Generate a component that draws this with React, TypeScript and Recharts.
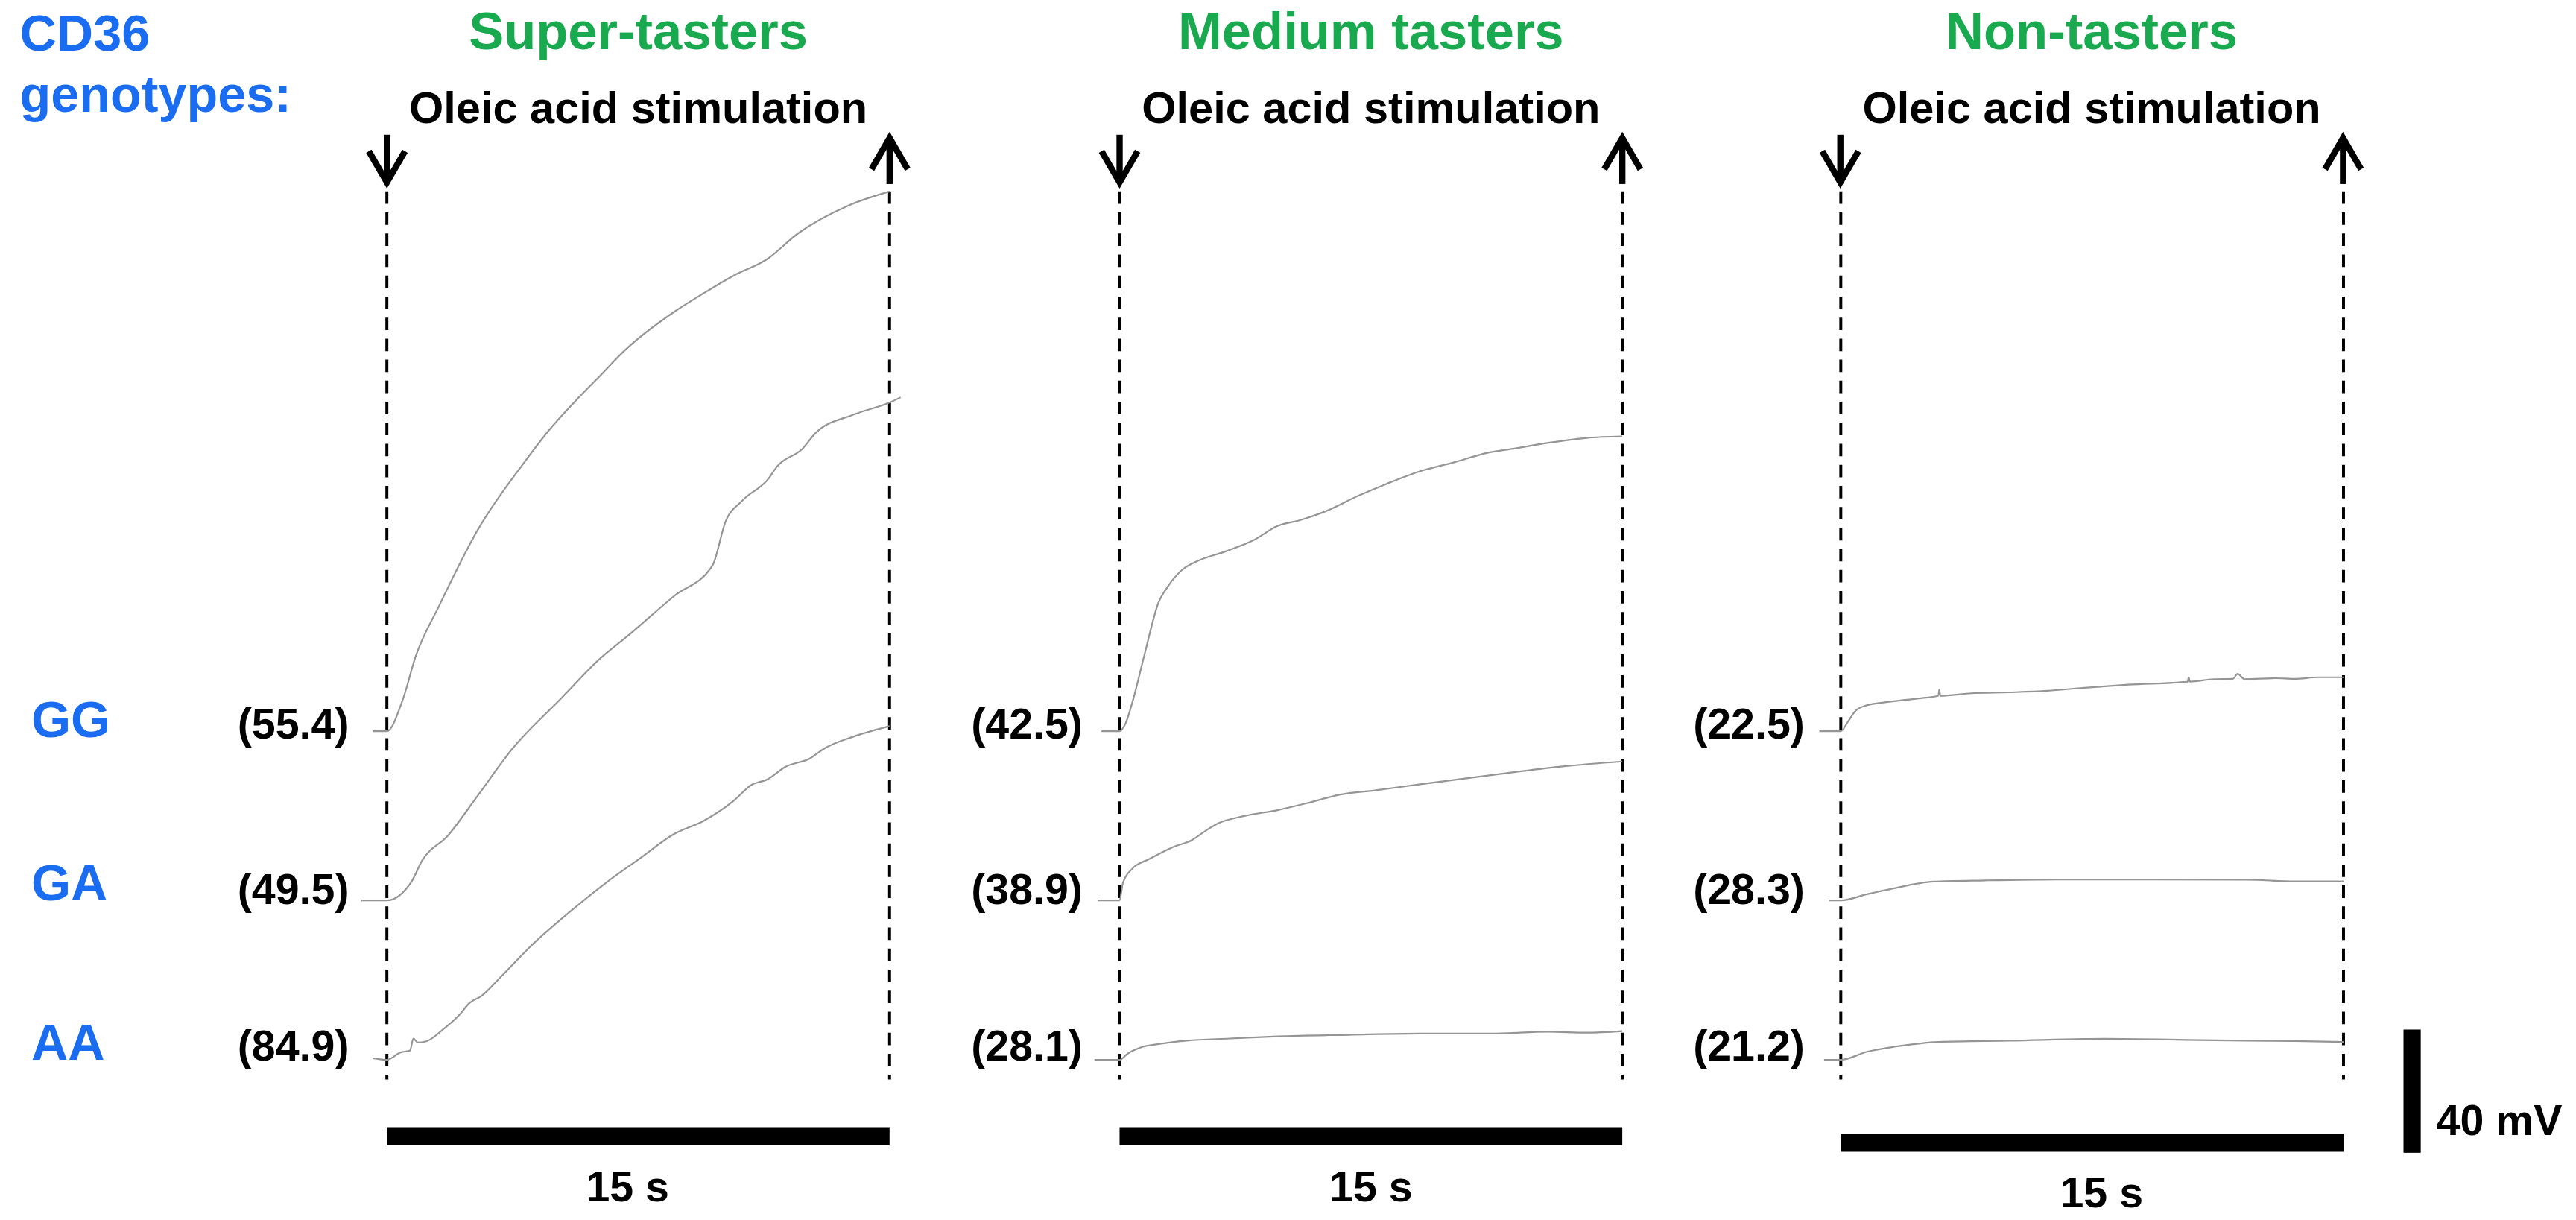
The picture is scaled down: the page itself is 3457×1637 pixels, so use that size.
import { LineChart, Line, XAxis, YAxis, ReferenceLine, ReferenceArea } from 'recharts'

// labels
const genotypes = ['GG', 'GA', 'AA']
const panelTitles = ['Super-tasters', 'Medium tasters', 'Non-tasters']
const superValues = ['(55.4)', '(49.5)', '(84.9)']
const mediumValues = ['(42.5)', '(38.9)', '(28.1)']
const nonValues = ['(22.5)', '(28.3)', '(21.2)']

// traces: time (s, 0 = oleic acid on) and depolarisation from baseline (mV)
const superGG_t = [-0.42, 0, 0.47, 0.86, 1.56, 2.71, 4.11, 4.87, 5.76, 6.4, 7.04, 8.57, 9.46, 10.35, 11.37, 12.26, 13.79, 15.0]
const superGG_mv = [0, 0, 10.1, 24.3, 40.7, 65.3, 87.4, 98.1, 108.7, 115.8, 123.0, 136.1, 142.2, 147.9, 153.4, 161.5, 170.7, 175.2]
const superGA_t = [-0.76, 0, 0.73, 1.05, 1.81, 2.71, 3.72, 5.23, 6.29, 7.29, 8.57, 9.72, 10.1, 10.61, 11.38, 11.64, 12.41, 12.79, 13.93, 15.02, 15.33]
const superGA_mv = [0, 0, 6.0, 12.9, 20.9, 34.0, 48.9, 65.9, 77.8, 86.8, 98.8, 108.8, 122.8, 129.8, 136.8, 140.8, 146.7, 151.7, 157.7, 161.7, 163.3]
const superAA_t = [-0.42, 0, 0.41, 0.69, 0.79, 0.92, 1.18, 1.68, 2.19, 2.45, 2.83, 3.47, 4.36, 5.51, 6.53, 7.54, 8.57, 9.46, 10.35, 10.86, 11.37, 11.88, 12.65, 13.03, 13.92, 15.0]
const superAA_mv = [0.5, 0, 2.4, 3.0, 6.9, 5.6, 6.0, 9.9, 14.9, 18.3, 20.8, 27.7, 37.6, 48.5, 57.4, 65.3, 73.3, 77.6, 84.1, 89.1, 91.1, 95.0, 98.0, 100.9, 104.9, 108.3]

const mediumGG_t = [-0.54, 0, 0.17, 0.38, 0.74, 1.16, 1.45, 1.87, 2.3, 3.15, 4.0, 4.71, 5.42, 6.13, 7.12, 7.97, 8.97, 9.96, 10.95, 11.81, 12.8, 13.93, 15.0]
const mediumGG_mv = [0, 0, 2.3, 9.3, 24.7, 41.7, 47.1, 52.4, 55.1, 58.3, 62.0, 66.6, 68.6, 71.3, 76.4, 80.3, 84.4, 87.2, 90.3, 91.8, 93.6, 95.2, 95.7]
const mediumGA_t = [-0.65, 0, 0.1, 0.38, 0.88, 1.59, 2.16, 2.58, 2.94, 3.72, 4.71, 5.71, 6.56, 7.69, 8.97, 10.39, 11.81, 13.22, 15.0]
const mediumGA_mv = [0, 0, 5.7, 10.3, 13.4, 17.3, 19.6, 22.7, 25.0, 27.4, 29.3, 31.9, 34.3, 35.8, 37.7, 39.7, 41.7, 43.5, 45.1]
const mediumAA_t = [-0.75, 0, 0.24, 0.6, 1.16, 2.01, 3.29, 4.71, 6.84, 8.97, 11.1, 12.8, 13.93, 15.0]
const mediumAA_mv = [0, 0, 2.0, 3.9, 5.1, 6.2, 6.9, 7.6, 8.1, 8.5, 8.5, 9.1, 8.8, 9.3]

const nonGG_t = [-0.64, 0, 0.21, 0.43, 0.71, 1.49, 2.48, 2.91, 2.94, 2.97, 3.9, 5.03, 6.17, 7.16, 8.58, 10.35, 10.38, 10.42, 11.13, 11.7, 11.84, 12.05, 12.97, 13.54, 14.25, 15.0]
const nonGG_mv = [0, 0, 3.0, 6.5, 8.2, 9.6, 10.8, 11.5, 13.5, 11.5, 12.3, 12.6, 13.1, 14.0, 15.1, 16.1, 17.5, 16.1, 16.9, 17.0, 18.6, 16.9, 17.2, 17.0, 17.5, 17.5]
const nonGA_t = [-0.35, 0, 0.78, 1.49, 2.77, 4.32, 6.45, 9.29, 12.12, 13.54, 15.0]
const nonGA_mv = [0, 0, 2.0, 3.7, 6.1, 6.5, 6.8, 6.8, 6.7, 6.2, 6.2]
const nonAA_t = [-0.5, 0, 0.78, 1.77, 2.91, 5.03, 7.87, 10.7, 12.12, 13.54, 15.0]
const nonAA_mv = [0, 0, 2.6, 4.5, 5.8, 6.2, 6.8, 6.4, 6.2, 6.1, 5.8]

// layout, in units of a 1568 px wide figure, scaled up at the end
const SCALE = 3457 / 1568
const FIG_W = 1568
const FIG_H = 742
const STIM_S = 15
const PX_PER_S = 306 / STIM_S
const SCALE_MV = 40
const PX_PER_MV = 75 / SCALE_MV
const T_MIN = -1.2
const T_MAX = 15.8
const CHART_TOP = 80
const CHART_BOTTOM = 705
const Y_MAX = (CHART_BOTTOM - CHART_TOP) / PX_PER_MV
const toMv = (y: number) => (CHART_BOTTOM - y) / PX_PER_MV
const ROW_Y = [445, 548, 645]
const ROW_LABEL_Y = [448.5, 548, 645]
const VALUE_Y = [449.5, 550, 645.5]
const DASH_TOP = 116.5
const DASH_BOTTOM = 657

const FONT = '"Liberation Sans", Arial, Helvetica, sans-serif'
const BLUE = '#1a6cf0'
const GREEN = '#19a94e'
const TRACE = '#959595'

const panels = [
  {
    title: panelTitles[0],
    left: 235.5,
    values: superValues,
    valueRight: 212.5,
    barTop: 686,
    barLabelShift: -6.5,
    traces: [[superGG_t, superGG_mv], [superGA_t, superGA_mv], [superAA_t, superAA_mv]],
  },
  {
    title: panelTitles[1],
    left: 681.5,
    values: mediumValues,
    valueRight: 659,
    barTop: 686,
    barLabelShift: 0,
    traces: [[mediumGG_t, mediumGG_mv], [mediumGA_t, mediumGA_mv], [mediumAA_t, mediumAA_mv]],
  },
  {
    title: panelTitles[2],
    left: 1120.2,
    values: nonValues,
    valueRight: 1098.5,
    barTop: 690,
    barLabelShift: 6,
    traces: [[nonGG_t, nonGG_mv], [nonGA_t, nonGA_mv], [nonAA_t, nonAA_mv]],
  },
]

function TracePanel({ panel }: { panel: (typeof panels)[number] }) {
  const width = (T_MAX - T_MIN) * PX_PER_S
  const dash = { stroke: '#000', strokeWidth: 1.8, strokeDasharray: '7.6 5.2', ifOverflow: 'visible' as const }
  return (
    <div style={{ position: 'absolute', left: panel.left + T_MIN * PX_PER_S, top: CHART_TOP }}>
      <LineChart width={width} height={CHART_BOTTOM - CHART_TOP} margin={{ top: 0, right: 0, bottom: 0, left: 0 }}>
        <XAxis type="number" dataKey="t" domain={[T_MIN, T_MAX]} hide />
        <YAxis type="number" domain={[0, Y_MAX]} hide />
        <ReferenceLine segment={[{ x: 0, y: toMv(DASH_TOP) }, { x: 0, y: toMv(DASH_BOTTOM) }]} {...dash} />
        <ReferenceLine segment={[{ x: STIM_S, y: toMv(DASH_TOP) }, { x: STIM_S, y: toMv(DASH_BOTTOM) }]} {...dash} />
        <ReferenceArea
          x1={0}
          x2={STIM_S}
          y1={toMv(panel.barTop + 11)}
          y2={toMv(panel.barTop)}
          fill="#000"
          fillOpacity={1}
          stroke="none"
          ifOverflow="visible"
        />
        {panel.traces.map(([ts, mv], r) => (
          <Line
            key={genotypes[r]}
            data={ts.map((t, i) => ({ t, v: mv[i] + toMv(ROW_Y[r]) }))}
            dataKey="v"
            type="monotone"
            stroke={TRACE}
            strokeWidth={1}
            dot={false}
            activeDot={false}
            isAnimationActive={false}
          />
        ))}
      </LineChart>
    </div>
  )
}

function Overlay() {
  return (
    <svg
      width={FIG_W}
      height={FIG_H}
      style={{ position: 'absolute', left: 0, top: 0, pointerEvents: 'none' }}
      fontFamily={FONT}
      fontWeight="bold"
    >
      <text x={12} y={31} fontSize={31} fill={BLUE}>CD36</text>
      <text x={12} y={68} fontSize={31} fill={BLUE}>genotypes:</text>
      {genotypes.map((g, r) => (
        <text key={g} x={19} y={ROW_LABEL_Y[r]} fontSize={31} fill={BLUE}>{g}</text>
      ))}
      {panels.map((p) => {
        const right = p.left + STIM_S * PX_PER_S
        const mid = (p.left + right) / 2
        return (
          <g key={p.title}>
            <text x={mid} y={30} fontSize={32} fill={GREEN} textAnchor="middle">{p.title}</text>
            <text x={mid} y={75} fontSize={27} fill="#000" textAnchor="middle">Oleic acid stimulation</text>
            <g stroke="#000" strokeWidth={3.8} fill="none" strokeLinecap="butt">
              <line x1={p.left} y1={82} x2={p.left} y2={110} />
              <path d={`M${p.left - 11},92 L${p.left},111 L${p.left + 11},92`} />
              <line x1={right} y1={85} x2={right} y2={112} />
              <path d={`M${right - 11},103 L${right},84 L${right + 11},103`} />
            </g>
            {p.values.map((v, r) => (
              <text key={v} x={p.valueRight} y={VALUE_Y[r]} fontSize={26} fill="#000" textAnchor="end">{v}</text>
            ))}
            <text x={mid + p.barLabelShift} y={p.barTop + 45} fontSize={26} fill="#000" textAnchor="middle">{`${STIM_S} s`}</text>
          </g>
        )
      })}
      <rect x={1463} y={626.6} width={10.5} height={SCALE_MV * PX_PER_MV} fill="#000" />
      <text x={1483} y={691} fontSize={26} fill="#000">{`${SCALE_MV} mV`}</text>
    </svg>
  )
}

export default function App() {
  return (
    <div
      style={{
        position: 'absolute',
        left: 0,
        top: 0,
        width: FIG_W,
        height: FIG_H,
        transform: `scale(${SCALE})`,
        transformOrigin: '0 0',
        background: '#fff',
      }}
    >
      {panels.map((p) => (
        <TracePanel key={p.title} panel={p} />
      ))}
      <Overlay />
    </div>
  )
}
